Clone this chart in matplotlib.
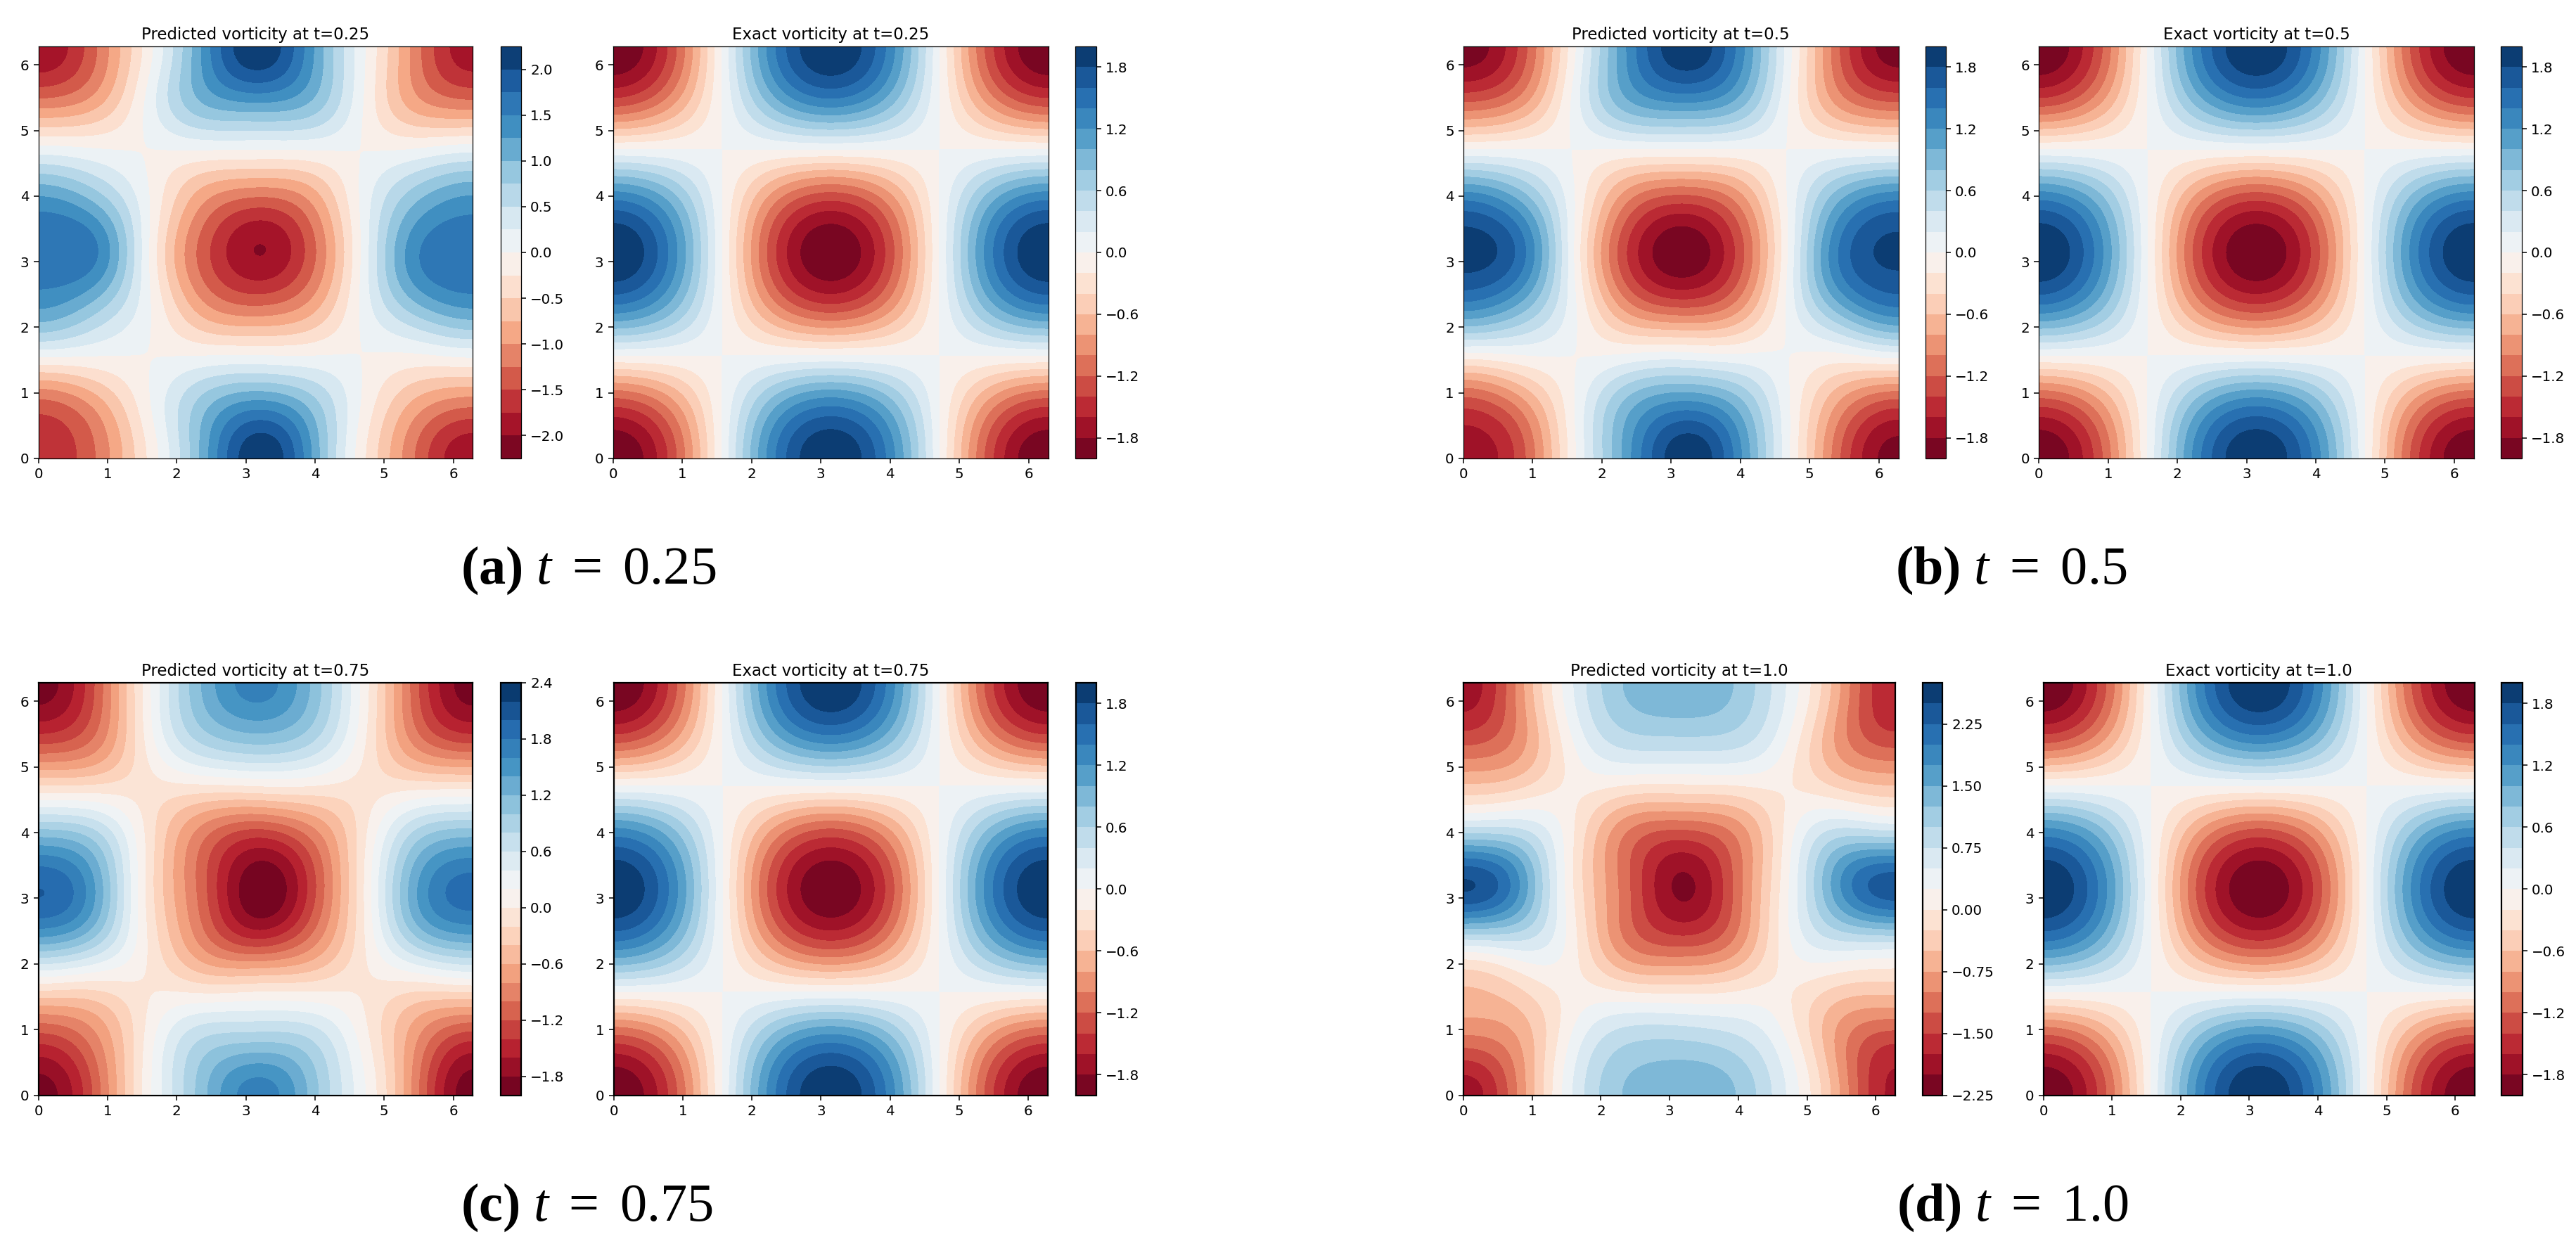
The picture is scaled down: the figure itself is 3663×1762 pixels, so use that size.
import numpy as np
import matplotlib
matplotlib.use("Agg")
import matplotlib.pyplot as plt

W, H = 3663, 1762

# Field values at x, y = 0, pi/4, ..., 2*pi (rows: y ascending)
exact_field = [
    [-1.99, -1.41, 0, 1.41, 1.99, 1.41, 0, -1.41, -1.99],
    [-1.41, -1.00, 0, 1.00, 1.41, 1.00, 0, -1.00, -1.41],
    [0, 0, 0, 0, 0, 0, 0, 0, 0],
    [1.41, 1.00, 0, -1.00, -1.41, -1.00, 0, 1.00, 1.41],
    [1.99, 1.41, 0, -1.41, -1.99, -1.41, 0, 1.41, 1.99],
    [1.41, 1.00, 0, -1.00, -1.41, -1.00, 0, 1.00, 1.41],
    [0, 0, 0, 0, 0, 0, 0, 0, 0],
    [-1.41, -1.00, 0, 1.00, 1.41, 1.00, 0, -1.00, -1.41],
    [-1.99, -1.41, 0, 1.41, 1.99, 1.41, 0, -1.41, -1.99],
]
pred_025 = [
    [-1.70, -1.30, -0.25, 1.05, 2.20, 1.30, -0.22, -1.33, -1.95],
    [-1.40, -1.00, -0.08, 0.88, 1.42, 0.95, -0.08, -0.92, -1.25],
    [0.05, 0.01, -0.005, -0.01, 0.00, -0.01, -0.005, -0.04, 0.05],
    [1.32, 0.95, 0.07, -0.95, -1.30, -0.95, 0.10, 1.00, 1.33],
    [1.72, 1.58, 0.06, -1.35, -2.005, -1.40, 0.10, 1.48, 1.72],
    [1.33, 0.98, 0.05, -0.95, -1.35, -1.00, 0.10, 1.00, 1.33],
    [0.10, 0.02, -0.005, 0.01, 0.00, 0.01, -0.005, 0.02, 0.15],
    [-1.27, -0.97, 0.04, 1.05, 1.37, 1.05, -0.02, -1.00, -1.30],
    [-1.95, -1.35, -0.15, 1.25, 2.20, 1.35, 0.02, -1.20, -1.90],
]
pred_050 = [
    [-1.75, -1.35, -0.10, 1.10, 1.95, 1.35, 0.00, -1.28, -1.90],
    [-1.38, -1.00, -0.05, 0.90, 1.32, 0.98, 0.00, -0.95, -1.38],
    [-0.10, -0.02, 0.00, 0.03, 0.08, 0.03, 0.00, -0.05, 0.08],
    [1.35, 1.00, 0.08, -0.95, -1.30, -0.98, 0.08, 1.05, 1.45],
    [1.90, 1.55, 0.05, -1.40, -1.98, -1.40, 0.05, 1.50, 1.85],
    [1.40, 1.02, 0.05, -0.98, -1.35, -1.00, 0.05, 1.05, 1.40],
    [0.00, 0.00, 0.00, -0.01, -0.01, -0.01, 0.00, 0.00, 0.00],
    [-1.30, -1.00, 0.02, 1.00, 1.30, 1.02, -0.02, -1.00, -1.30],
    [-1.92, -1.40, -0.10, 1.20, 1.95, 1.40, 0.05, -1.30, -1.92],
]
pred_075 = [
    [-1.90, -1.20, 0.10, 1.10, 1.70, 1.15, 0.22, -1.00, -1.92],
    [-1.40, -0.95, 0.06, 0.85, 1.02, 0.85, 0.10, -0.85, -1.45],
    [-0.25, -0.25, -0.02, -0.03, 0.00, 0.00, -0.03, -0.22, -0.20],
    [1.30, 0.95, 0.00, -0.88, -1.37, -0.95, -0.02, 0.95, 1.25],
    [2.00, 1.45, -0.05, -1.10, -1.98, -1.35, 0.00, 1.42, 1.90],
    [1.20, 0.95, -0.05, -0.95, -1.40, -1.00, -0.05, 0.95, 1.20],
    [-0.20, -0.18, -0.08, -0.04, 0.00, 0.00, -0.08, -0.10, -0.10],
    [-1.40, -1.05, 0.06, 0.92, 1.18, 0.92, 0.04, -1.00, -1.40],
    [-1.90, -1.25, 0.10, 1.20, 1.68, 1.20, 0.10, -1.20, -1.90],
]
pred_100 = [
    [-1.90, -1.00, 0.47, 1.27, 1.42, 1.27, 0.47, -0.80, -1.80],
    [-1.17, -0.80, 0.30, 0.98, 1.05, 0.88, 0.25, -0.90, -1.50],
    [-0.55, -0.33, 0.08, 0.00, -0.05, 0.00, 0.03, -0.38, -0.45],
    [0.70, 0.75, 0.12, -1.02, -1.40, -1.00, 0.18, 0.75, 0.80],
    [2.52, 1.80, 0.05, -1.15, -2.05, -1.25, 0.20, 1.75, 2.40],
    [1.15, 1.00, 0.05, -1.05, -1.45, -1.05, 0.10, 1.00, 1.00],
    [-0.47, -0.33, 0.05, -0.02, -0.05, -0.02, 0.02, -0.33, -0.50],
    [-1.45, -0.95, 0.25, 0.95, 1.03, 0.95, 0.28, -0.90, -1.47],
    [-1.90, -0.95, 0.45, 1.27, 1.45, 1.25, 0.47, -0.78, -1.72],
]

times = ["0.25", "0.5", "0.75", "1.0"]
captions = ["(a)", "(b)", "(c)", "(d)"]
tick_labels_xy = [0, 1, 2, 3, 4, 5, 6]

levels_exact = (-2.0, 2.0, 0.2)
levels_pred = [(-2.25, 2.25, 0.25), (-2.0, 2.0, 0.2), (-2.0, 2.4, 0.2), (-2.25, 2.75, 0.25)]
ticks_exact = (-1.8, 1.8, 0.6)
ticks_pred = [(-2.0, 2.0, 0.5), (-1.8, 1.8, 0.6), (-1.8, 2.4, 0.6), (-2.25, 2.25, 0.75)]

pred_fields = [pred_025, pred_050, pred_075, pred_100]

# pixel boxes: axes (x0, x1), colorbar (x0, x1)
rows_y = [(66, 652), (66, 652), (971, 1557.5), (971, 1557.5)]
spine_w = [0.9, 0.9, 1.6, 1.6]
pred_box = [((54.6, 672.4), (711.7, 741)), ((2081, 2699.5), (2737.8, 2767)),
            ((54.6, 672.4), (711.7, 741)), ((2081, 2695), (2733.7, 2762))]
exact_box = [((871.8, 1490.7), (1529, 1559)), ((2899.4, 3517.5), (3556, 3586)),
             ((872.7, 1490), (1529.6, 1559)), ((2905.6, 3519), (3557.4, 3587))]
caption_x = [655, 2695, 655, 2697]
caption_base = [830, 830, 1736, 1736]

plt.rcParams['mathtext.fontset'] = 'custom'
plt.rcParams['mathtext.rm'] = 'Liberation Serif'
plt.rcParams['mathtext.it'] = 'Liberation Serif:italic'
plt.rcParams['mathtext.bf'] = 'Liberation Serif:bold'

fig = plt.figure(figsize=(W / 100, H / 100), dpi=100)


def box(x0, x1, y0, y1):
    return [x0 / W, 1 - y1 / H, (x1 - x0) / W, (y1 - y0) / H]


def fine(table, n=300):
    """Smooth the coarse read-off table (cosine series through its nodes)."""
    t = np.array(table, float)
    N = t.shape[0] - 1
    nodes = np.arange(N + 1)
    C = np.cos(np.outer(nodes, nodes) * np.pi / N)
    coef = np.linalg.solve(C, t)
    coef = np.linalg.solve(C, coef.T).T
    s = np.linspace(0, 2 * np.pi, n)
    B = np.cos(np.outer(s / 2, nodes))
    return s, B @ coef @ B.T


def steps(spec):
    a, b, d = spec
    return np.round(np.arange(a, b + d / 2, d), 4)


def panel(table, levs, ticks, title, ax_x, cb_x, ys, lw):
    ax = fig.add_axes(box(ax_x[0], ax_x[1], ys[0], ys[1]))
    s, z = fine(table)
    lv = steps(levs)
    cf = ax.contourf(s, s, z, levels=lv, cmap='RdBu', extend='neither')
    ax.set_xlim(0, 2 * np.pi)
    ax.set_ylim(0, 2 * np.pi)
    ax.set_xticks(tick_labels_xy)
    ax.set_yticks(tick_labels_xy)
    ax.tick_params(labelsize=14.3, length=5, width=1.1, pad=4.5)
    for sp in ax.spines.values():
        sp.set_linewidth(lw)
    ax.set_title(title, fontsize=16.5, pad=7)
    cax = fig.add_axes(box(cb_x[0], cb_x[1], ys[0], ys[1]))
    cb = fig.colorbar(cf, cax=cax, ticks=steps(ticks))
    cb.ax.tick_params(labelsize=14.3, length=5, width=1.1, pad=4.5)
    cb.outline.set_linewidth(lw)


for i, t in enumerate(times):
    panel(pred_fields[i], levels_pred[i], ticks_pred[i],
          f"Predicted vorticity at t={t}", pred_box[i][0], pred_box[i][1], rows_y[i], spine_w[i])
    panel(exact_field, levels_exact, ticks_exact,
          f"Exact vorticity at t={t}", exact_box[i][0], exact_box[i][1], rows_y[i], spine_w[i])
    fig.text(caption_x[i] / W, 1 - caption_base[i] / H,
             rf"$\mathbf{{{captions[i]}}}\ t\ =\ \mathrm{{{t}}}$",
             fontsize=55, ha='left', va='baseline')

fig.savefig("out.png", dpi=100)
